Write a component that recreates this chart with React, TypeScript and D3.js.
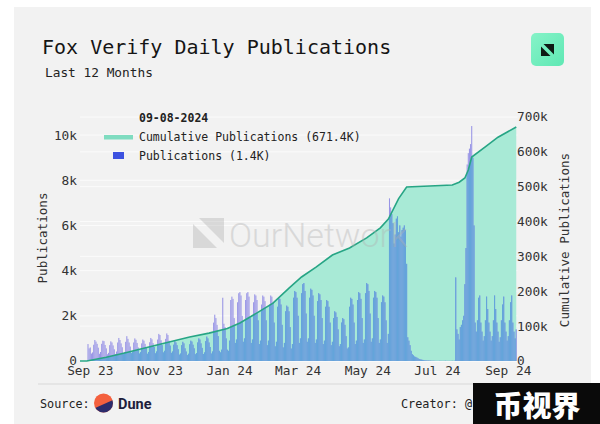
import * as d3 from 'd3';

// daily publications, Aug 23 2023 -> Sep 8 2024
const aug23 = [0, 0, 0, 0, 0, 0, 0, 750, 560];
const sep23 = [600, 330, 380, 720, 930, 860, 760, 590, 320, 400, 760, 900, 880, 710, 560, 300, 360, 700, 870, 820, 690, 520, 310, 420, 820, 1020, 930, 780, 610, 340];
const oct23 = [400, 850, 1100, 980, 820, 640, 350, 410, 820, 1000, 940, 800, 600, 330, 390, 780, 950, 900, 760, 580, 320, 400, 830, 1020, 960, 790, 620, 340, 420, 950, 1200];
const nov23 = [1150, 920, 700, 380, 450, 980, 1220, 1150, 900, 680, 360, 420, 720, 880, 820, 700, 520, 280, 330, 700, 850, 780, 560, 420, 260, 320, 740, 900, 860, 720];
const dec23 = [560, 300, 350, 820, 1000, 950, 780, 580, 310, 380, 880, 1080, 1000, 820, 620, 330, 420, 1700, 2050, 1900, 1600, 1100, 450, 380, 500, 2800, 1650, 1500, 1000, 500, 450];
const jan24 = [900, 2700, 2850, 2750, 1900, 800, 950, 2600, 3000, 3050, 2900, 2000, 850, 1000, 2700, 3000, 3050, 2850, 1900, 800, 950, 2600, 2950, 2900, 2700, 1800, 750, 900, 2500, 2900, 2850];
const feb24 = [2650, 1800, 700, 900, 2500, 2900, 2850, 2600, 1700, 650, 850, 2400, 2800, 2750, 2500, 1600, 600, 800, 2200, 2450, 2400, 2200, 1500, 550, 750, 2800, 3100, 3050, 2800];
const mar24 = [2000, 800, 1000, 3000, 3400, 3450, 3100, 2100, 850, 1000, 2800, 3200, 3150, 2900, 2000, 800, 950, 2650, 3000, 2950, 2700, 1900, 750, 900, 2400, 2700, 2650, 2400, 1700, 700, 850];
const apr24 = [1900, 2200, 2150, 1950, 1400, 650, 750, 1700, 1900, 1850, 1600, 1100, 550, 600, 2400, 2800, 2750, 2500, 1700, 750, 900, 2700, 3050, 3000, 2750, 1900, 800, 950, 3000, 3450];
const may24 = [3400, 3100, 2100, 850, 1000, 2800, 3100, 3050, 2800, 1900, 800, 950, 2600, 2900, 2850, 2600, 1800, 800, 1200, 7200, 6800, 6500, 6100, 5200, 5600, 6300, 6400, 5700, 6000, 5500, 5800];
const jun24 = [5900, 6000, 5800, 4300, 1050, 900, 700, 450, 300, 250, 200, 180, 150, 120, 90, 70, 60, 50, 40, 30, 25, 20, 20, 15, 15, 10, 10, 10, 5, 5];
const jul24 = [5, 5, 10, 5, 5, 5, 5, 10, 5, 5, 5, 5, 5, 10, 5, 10, 3700, 1400, 1200, 950, 1500, 1600, 1800, 2000, 3400, 5000, 8700, 9200, 9400, 9600, 10400];
const aug24 = [9000, 6000, 1700, 1300, 1800, 2800, 2900, 1700, 1300, 900, 1100, 1800, 2850, 2300, 1700, 1300, 900, 1100, 1800, 2900, 2300, 1700, 1300, 850, 1050, 1800, 2500, 2850, 1700, 1300, 900];
const sep24 = [1100, 1800, 2600, 2900, 1700, 1300, 1000, 1400];

// cumulative publications
const cumDates = ['2023-08-23', '2023-08-29', '2023-09-15', '2023-10-01', '2023-11-01', '2023-11-27', '2023-12-14', '2023-12-30', '2024-01-10', '2024-01-25', '2024-02-08', '2024-02-22', '2024-03-04', '2024-03-17', '2024-03-31', '2024-04-15', '2024-04-30', '2024-05-12', '2024-05-19', '2024-05-28', '2024-06-04', '2024-06-24', '2024-07-14', '2024-07-20', '2024-07-25', '2024-07-28', '2024-07-31', '2024-08-13', '2024-08-23', '2024-09-08'];
const cumValues = [0, 0, 11000, 23000, 48000, 69000, 80000, 93000, 109000, 138000, 166000, 209000, 241000, 270000, 304000, 324000, 353000, 382000, 407000, 466000, 499000, 502000, 505000, 513000, 525000, 548000, 585000, 617000, 642000, 671400];

const xTicks = ['2023-09-01', '2023-11-01', '2024-01-01', '2024-03-01', '2024-05-01', '2024-07-01', '2024-09-01'];
const leftTicks = [0, 2000, 4000, 6000, 8000, 10000];
const rightTicks = [0, 100000, 200000, 300000, 400000, 500000, 600000, 700000];

const MONO = '"DejaVu Sans Mono", monospace';

export default function App() {
  const parse = d3.timeParse('%Y-%m-%d');
  const start = parse('2023-08-23')!;
  const daily = [...aug23, ...sep23, ...oct23, ...nov23, ...dec23, ...jan24, ...feb24, ...mar24, ...apr24, ...may24, ...jun24, ...jul24, ...aug24, ...sep24];
  const bars = daily.map((v, i) => ({ date: d3.timeDay.offset(start, i), v }));
  const cum = cumDates.map((d, i) => ({ date: parse(d)!, v: cumValues[i] }));

  const plot = { left: 80, right: 517.4, top: 117, bottom: 361 };
  const x = d3.scaleTime()
    .domain([start, parse('2024-09-09')!])
    .range([plot.left, plot.right]);
  const yL = d3.scaleLinear().domain([0, 10800]).range([plot.bottom, plot.top]);
  const yR = d3.scaleLinear().domain([0, 700000]).range([plot.bottom, plot.top]);

  const area = d3.area<{ date: Date; v: number }>()
    .x(d => x(d.date))
    .y0(plot.bottom)
    .y1(d => yR(d.v));
  const line = d3.line<{ date: Date; v: number }>()
    .x(d => x(d.date))
    .y(d => yR(d.v));
  const areaPath = area(cum) || '';

  const bw = 1.05;
  const fmtK = (v: number) => (v === 0 ? '0' : `${v / 1000}k`);
  const fmtMonth = d3.timeFormat('%b %y');

  const barRects = (fill: string) =>
    bars.filter(d => d.v > 0).map((d, i) => (
      <rect key={i} x={x(d.date) - bw / 2} y={yL(d.v)} width={bw} height={plot.bottom - yL(d.v)} fill={fill} />
    ));

  return (
    <svg width={600} height={424} style={{ position: 'absolute', left: 0, top: 0, background: '#fff' }}>
      <defs>
        <clipPath id="areaClip">
          <path d={areaPath} />
        </clipPath>
        <linearGradient id="logoGrad" x1="0" y1="0" x2="1" y2="1">
          <stop offset="0" stopColor="#86f3c8" />
          <stop offset="1" stopColor="#5fe8b4" />
        </linearGradient>
      </defs>

      {/* card */}
      <rect x={14} y={7} width={577} height={417} fill="#f2f2f2" />

      {/* title */}
      <text x={42} y={54} fontFamily={MONO} fontSize={20} fill="#151515">Fox Verify Daily Publications</text>
      <text x={45} y={77} fontFamily={MONO} fontSize={12.8} fill="#222">Last 12 Months</text>

      {/* logo */}
      <rect x={531} y={33} width={33} height={33} rx={5} fill="url(#logoGrad)" />
      <polygon points="543.5,44 554,44 554,54.5" fill="#0e1a14" />
      <polygon points="541,46.5 541,56 550.5,56" fill="#0e1a14" />

      {/* gridlines */}
      {leftTicks.map(t => (
        <line key={'gl' + t} x1={plot.left} x2={plot.right} y1={yL(t)} y2={yL(t)} stroke="#fbfbfb" strokeWidth={1} />
      ))}
      {rightTicks.map(t => (
        <line key={'gr' + t} x1={plot.left} x2={plot.right} y1={yR(t)} y2={yR(t)} stroke="#fbfbfb" strokeWidth={1} />
      ))}

      {/* cumulative area */}
      <path d={areaPath} fill="#a8ead6" />

      {/* publications bars: purple outside the area, blue inside */}
      <g>{barRects('#9894e6')}</g>
      <g clipPath="url(#areaClip)">{barRects('#63a5da')}</g>

      <path d={line(cum) || ''} fill="none" stroke="#27a585" strokeWidth={1.6} />

      {/* watermark */}
      <g opacity={0.38}>
        <polygon points="199,218 224,218 224,243" fill="#b0b0b0" />
        <polygon points="193,224 193,248 217,248" fill="#b0b0b0" />
        <text x={229} y={247} fontFamily="Roboto, sans-serif" fontWeight={300} fontSize={34} fill="#b0b0b0">OurNetwork</text>
      </g>

      {/* left axis */}
      {leftTicks.map(t => (
        <text key={'tl' + t} x={77} y={yL(t)} dy="0.35em" textAnchor="end" fontFamily={MONO} fontSize={12.8} fill="#333">{fmtK(t)}</text>
      ))}
      <text transform={`translate(47,238) rotate(-90)`} textAnchor="middle" fontFamily={MONO} fontSize={12.6} fill="#333">Publications</text>

      {/* right axis */}
      {rightTicks.map(t => (
        <text key={'tr' + t} x={517} y={yR(t)} dy="0.35em" fontFamily={MONO} fontSize={12.8} fill="#333">{fmtK(t)}</text>
      ))}
      <text transform={`translate(569,240) rotate(-90)`} textAnchor="middle" fontFamily={MONO} fontSize={12.6} fill="#333">Cumulative Publications</text>

      {/* x axis */}
      {xTicks.map(d => (
        <text key={d} x={x(parse(d)!)} y={375} textAnchor="middle" fontFamily={MONO} fontSize={12.8} fill="#333">{fmtMonth(parse(d)!)}</text>
      ))}

      {/* legend */}
      <text x={139} y={122} fontFamily={MONO} fontSize={11.5} fontWeight="bold" fill="#222">09-08-2024</text>
      <rect x={104} y={135} width={29} height={4.5} fill="#7fdcc0" />
      <text x={139} y={141} fontFamily={MONO} fontSize={11.5} fill="#222">Cumulative Publications (671.4K)</text>
      <rect x={113} y={152} width={11} height={7} fill="#3d52e0" />
      <text x={139} y={160} fontFamily={MONO} fontSize={11.5} fill="#222">Publications (1.4K)</text>

      {/* footer */}
      <line x1={38} x2={576} y1={384} y2={384} stroke="#d8d8d8" strokeWidth={1} />
      <text x={40} y={408} fontFamily={MONO} fontSize={11.8} fill="#222">Source:</text>
      <clipPath id="duneClip"><circle cx={103.5} cy={403} r={9.5} /></clipPath>
      <g clipPath="url(#duneClip)">
        <rect x={93} y={393} width={22} height={22} fill="#f4603e" />
        <polygon points="93,409 115,399 115,415 93,415" fill="#2c2c6c" />
      </g>
      <text x={118} y={409} fontFamily="Roboto, sans-serif" fontWeight="bold" fontSize={14.5} fill="#1e1e3c">Dune</text>
      <text x={401} y={408} fontFamily={MONO} fontSize={11.8} fill="#222">Creator: @</text>

      {/* corner badge */}
      <rect x={473} y={383} width={127} height={41} fill="#0a0a0a" />
      <text x={537} y={404} dominantBaseline="central" textAnchor="middle" fontFamily='"Noto Sans CJK SC", sans-serif' fontWeight={900} fontSize={29} fill="#fff">币视界</text>
    </svg>
  );
}
